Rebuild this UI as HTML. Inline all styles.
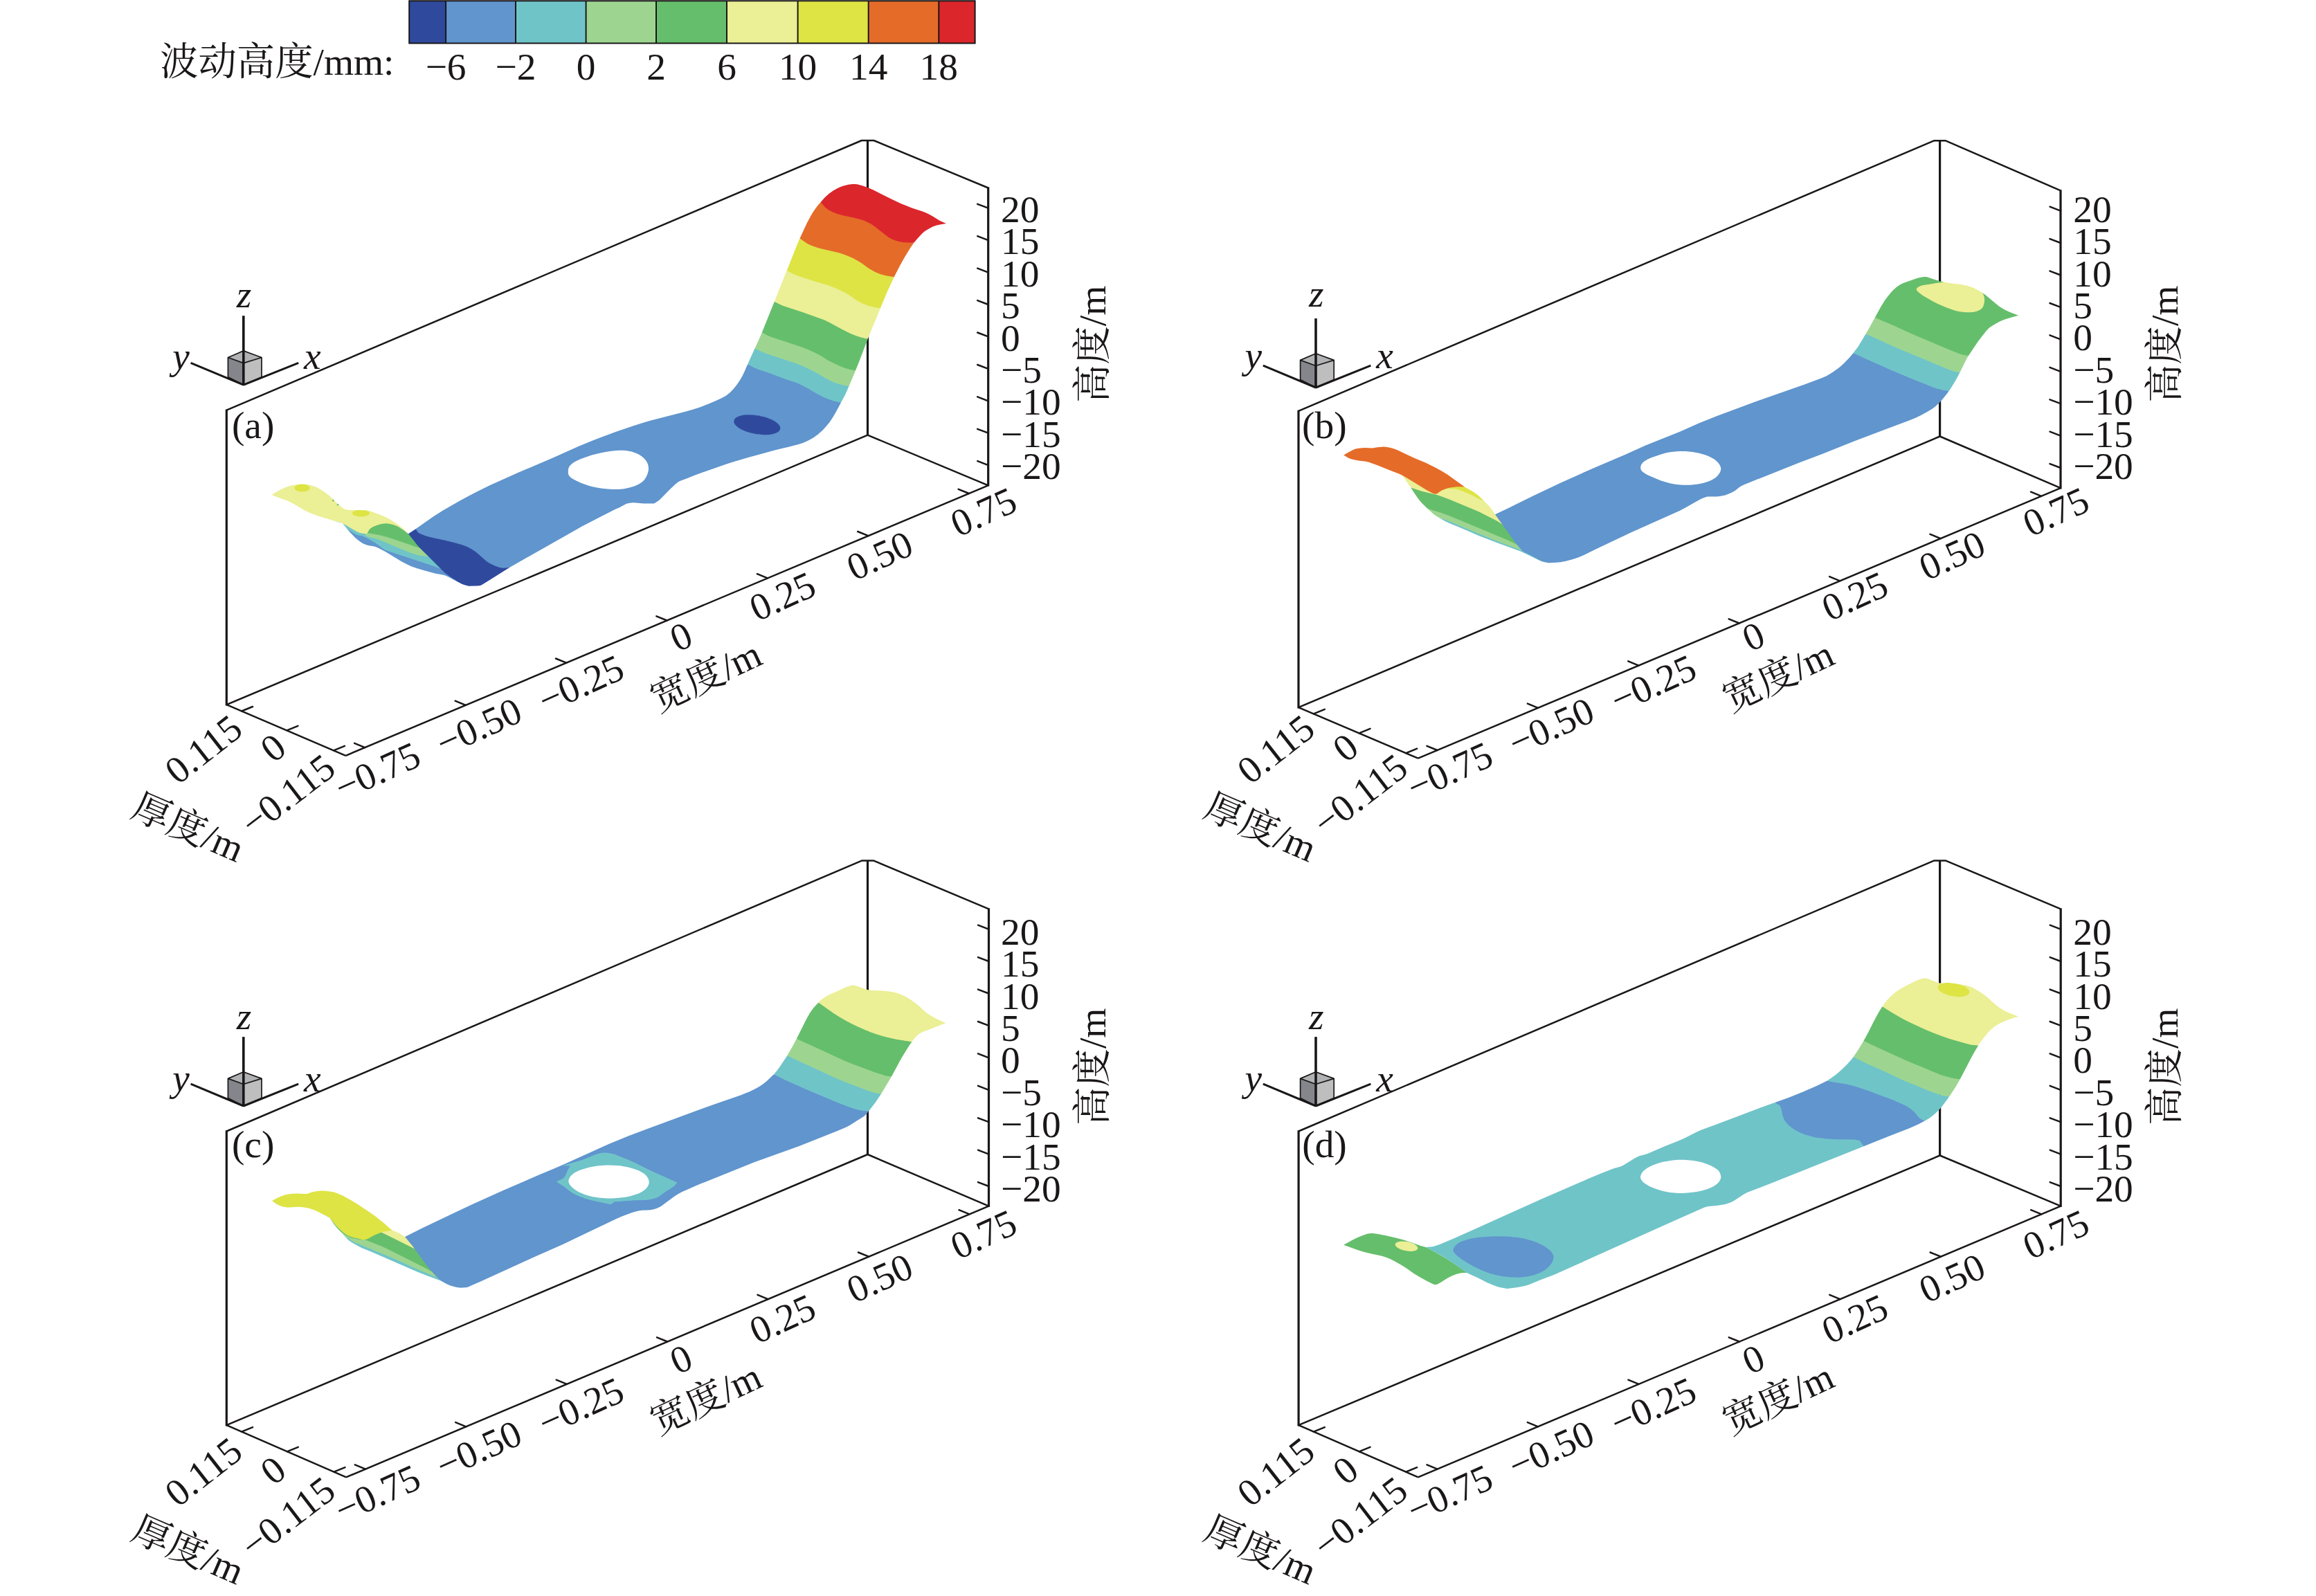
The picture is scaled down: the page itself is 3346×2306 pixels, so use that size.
<!DOCTYPE html>
<html lang="zh"><head><meta charset="utf-8"><title>波动高度</title>
<style>html,body{margin:0;padding:0;background:#fff}body{width:3346px;height:2306px;overflow:hidden}svg{display:block}text{white-space:pre}</style></head><body>
<svg xmlns="http://www.w3.org/2000/svg" width="3346" height="2306" viewBox="0 0 3346 2306">
<rect width="3346" height="2306" fill="#fff"/>
<rect x="591.2" y="1.2" width="53.4" height="61.2" fill="#2f4a9d"/>
<rect x="644.1" y="1.2" width="101.4" height="61.2" fill="#6095cd"/>
<rect x="745.0" y="1.2" width="102.1" height="61.2" fill="#6fc4c8"/>
<rect x="846.6" y="1.2" width="101.9" height="61.2" fill="#9dd590"/>
<rect x="948.0" y="1.2" width="102.5" height="61.2" fill="#65be6b"/>
<rect x="1050.0" y="1.2" width="103.1" height="61.2" fill="#ebef95"/>
<rect x="1152.6" y="1.2" width="102.6" height="61.2" fill="#dde444"/>
<rect x="1254.7" y="1.2" width="102.1" height="61.2" fill="#e56b29"/>
<rect x="1356.3" y="1.2" width="52.8" height="61.2" fill="#db262b"/>
<path d="M591.2,1.2 H1408.6 V62.4 H591.2 Z M644.1,1.2 V62.4 M745.0,1.2 V62.4 M846.6,1.2 V62.4 M948.0,1.2 V62.4 M1050.0,1.2 V62.4 M1152.6,1.2 V62.4 M1254.7,1.2 V62.4 M1356.3,1.2 V62.4" fill="none" stroke="#1a1718" stroke-width="2"/>
<g fill="#1a1718" font-family='"Liberation Serif", "Noto Serif CJK SC", serif' font-size="55.4">
<text x="231.0" y="107.5">波动高度/mm:</text>
<text x="644.1" y="114.5" text-anchor="middle">−6</text>
<text x="745.0" y="114.5" text-anchor="middle">−2</text>
<text x="846.6" y="114.5" text-anchor="middle">0</text>
<text x="948.0" y="114.5" text-anchor="middle">2</text>
<text x="1050.0" y="114.5" text-anchor="middle">6</text>
<text x="1152.6" y="114.5" text-anchor="middle">10</text>
<text x="1254.7" y="114.5" text-anchor="middle">14</text>
<text x="1356.3" y="114.5" text-anchor="middle">18</text>
</g>
<g id="panel-a">
<path d="M1253.5,202.6 L1253.5,628.6" fill="none" stroke="#1a1718" stroke-width="3.2"/>
<path d="M480,751.8 493.1,755.7 493.4,755.8 492.8,755.4 489.3,754.2ZM497,758.8 506,769.5 512.5,776.2 516.2,779.6 518.8,781.6 521.2,783.3 524.8,785.4 530,787.5 532.9,788.2 540.9,789.5 545.6,791.3 556.6,797.1 580,811.2 587.8,815.3 594.1,818.2 601.9,821 611.2,823.8 628.4,828.4 639.4,830.4 642.5,831.2 647.2,833.3 661.4,840.8 667.5,843.8 671.4,845.1 677.5,846.8 679.5,846.8 673.4,845.2 670.9,844.3 668.1,843 665,841.3 649.2,831.1 644.5,827.5 639.5,822.8 635.9,821.3 635,820.4 629.8,818.5 559.8,795.3 556.4,793.9 552.8,791.7 546.6,786.8 542.8,784.2 537.8,781 531.5,777.5 525.2,774.5 522.6,773.8 517.6,772.8 515.2,772 510.3,769.4 504.2,764.9 505.9,767 502.4,764Z" fill="#6095cd" fill-rule="evenodd"/>
<path d="M639.5,822.8 622.3,805.3 619.2,804.4 618.5,803.7 616.4,803.3 613.4,802.9 606.7,802.3 599.8,800.5 586.4,795.6 547.1,778.9 543.2,777.7 533,775.4 530.2,774.5 528.9,773.7 528.3,771.5 527.5,770.6 521.4,769.8 517.8,768.6 508.6,763.6 499.1,757.8 497.6,757 498.3,757.9 495,756.2 497,758.8 502.4,764 506.2,767.2 510,769.8 515,772.5 517.5,773.3 522.5,774.3 525,775 531.2,777.9 537.5,781.4 542.5,784.6 546.2,787.2 553.8,793 557.4,794.9 630.4,819.3Z" fill="#6fc4c8" fill-rule="evenodd"/>
<path d="M622.3,805.3 609.2,792.4 610,793.3 606.5,791.8 605.8,791 605.2,790.8 603.3,790.2 600.2,789.5 590.2,785.8 565.8,777.6 554.5,774.2 543.2,771.6 530.7,769.6 530.3,769.8 529.7,770.7 526.6,770.5 527.8,771.7 528.3,773.6 528.6,774.1 530,775 532.9,775.9 543,778.2 546.9,779.4 584.4,795.2 593.8,798.9 599.6,801 605,802.5 608,803 614.7,803.5 617.8,804.1Z" fill="#9dd590" fill-rule="evenodd"/>
<path d="M605.2,788 594.9,774.9 582.6,765.5 578.6,762.9 575.8,760.7 571.5,758.8 565.6,756.9 560.7,756 555.9,755.8 551,756.5 547.8,757.4 543.4,758.8 538,761.1 534.7,763.4 533.8,764.2 532.3,766.1 530.2,770 545,772.5 552.5,774.2 560,776.2 588.4,785.7 600,790 603.9,790.9 610,793.3Z" fill="#65be6b" fill-rule="evenodd"/>
<path d="M590,771.2 584.2,765.5 578.6,760.8 571.5,755.6 566.1,752.1 559.8,748.6 553.4,745.5 547.2,743 536.4,739.1 531.7,737.8 530,737.5 528.2,737.3 526.4,737.2 528.2,737.3 530.3,738 532.3,739 533.3,739.8 532.2,739.6 533.2,740.5 533.5,741.5 533.2,742.5 532.7,743.1 531.2,744.1 530.2,744.6 527.6,745.3 523.1,746 519.9,746 515.4,745.3 511.8,744.1 511,743.6 509.8,742.5 509.5,741.5 509.8,740.5 511,739.4 512.6,738.6 511.4,738.6 511.6,738.5 513.9,737.5 516,737 503.4,736.8 500,736.2 497.1,735.2 494.7,733.7 490,730 487.6,727.8 480,720 473.9,714.8 469.1,711.1 462.9,707 458.3,704.4 455,703 449.7,701.2 444,699.9 437.9,699.4 435.7,699.5 433.5,699.6 429,700.1 420.5,701.7 414.8,703.3 407.5,706.2 401.9,709.3 392.5,715 405,720 414.4,723.2 419.1,725.2 430,731.2 440.9,737.9 447.2,740.8 458.1,744.9 465.9,747.5 480,751.8 489.3,754.2 495,756.2 498.9,758.2 508.4,764.1 514.1,767.3 517.6,769.1 520,770 523.8,770.7 530,771.2 532.8,766.4 534.1,764.6 536,763 538.3,761.6 542.2,759.8 547.9,757.8 552.7,756.7 557.5,756.2 560.7,756.5 563.9,757 568.6,758.3 572.7,759.8 576.4,761.6 581.3,764.6ZM447,705 446.7,706.2 446.3,706.8 445,707.9 444.1,708.4 440.6,709.6 436.5,710 432.4,709.6 428.9,708.4 428,707.9 426.7,706.8 426.3,706.2 426,705 426.3,703.8 426.7,703.2 428.5,701.8 427.3,702 428.7,701.1 432.3,699.9 436.5,699.5 440.7,699.9 444.3,701.1 445.4,701.8 444.1,701.6 445,702.1 446.3,703.2 446.7,703.8ZM590,771.2 594.4,774.6 594.9,774.9 592,771.2Z" fill="#ebef95" fill-rule="evenodd"/>
<path d="M528.2,737.3 516,737 513.9,737.5 511.6,738.5 510,739.6 509.1,740.8 509.1,742.2 510,743.4 511.6,744.5 512.7,745 516.7,746.1 519.9,746.5 523.1,746.5 527.8,745.8 530.3,745 532.3,744 533,743.4 533.9,742.2 534,741.5 533.9,740.8 533,739.6 532.3,739 530.3,738ZM447.1,703.6 446,702.2 444.3,701.1 443.2,700.6 439.3,699.7 435.1,699.5 432.3,699.9 428.7,701.1 427,702.2 426.3,702.9 425.9,703.6 425.5,705 425.9,706.4 427,707.8 428.7,708.9 429.8,709.4 433.7,710.3 437.9,710.5 440.7,710.1 443.2,709.4 444.3,708.9 446,707.8 447.1,706.4 447.4,705.7 447.5,705Z" fill="#dde444" fill-rule="evenodd"/>
<circle cx="481.2" cy="723.2" r="1.2" fill="#65be6b"/><circle cx="488" cy="729.2" r="1.2" fill="#65be6b"/>
<path d="M736.5,819.7 839.9,761.1 866,747.4 888.6,736.1 895,733.2 903.7,728.5 906.2,727.6 909.7,726.7 915,726.2 918.4,726.4 930,727.5 945,727.5 950.6,723.9 953.4,721.7 967.4,707.5 976.1,699.2 980,696.2 982.9,694.7 992.5,691.2 1001,687.8 1007.5,685.3 1048.8,670.8 1058.1,667.7 1080,661.2 1120.3,650.2 1127.3,648.4 1140.3,645.5 1153.6,642.1 1160,640 1167.8,636.6 1175,632.5 1181.6,627.7 1188.9,621.2 1194,615.5 1198.6,609.9 1203.2,603 1206.9,596.7 1215.1,581.5 1213.5,581.2 1213.7,580.7 1207.6,579.7 1202.3,578.1 1195.9,575.8 1191.1,573.9 1180.2,568.3 1169.4,561.8 1164.2,558.9 1158.5,555.9 1152.7,553.3 1148.9,551.9 1137.7,548.3 1109.5,537.7 1094.4,532.7 1089.3,530.5 1081.8,526.6 1081.6,527.1 1080.2,526.3 1075.6,536.8 1072.9,542.5 1068.9,549.6 1064.3,556.3 1058.8,563.1 1054,567.8 1048.5,571.9 1042.5,575.2 1034.9,578.8 1024.4,583.2 1012.4,587.9 1001.6,591.6 989.2,595.1 939.4,607.8 926.9,611.5 914.4,615.6 889.4,624.1 870.6,631 855,637 836.2,644.8 798.8,661.5 748.8,682.8 708.1,701 689.4,710.2 676.9,716.7 664.4,723.4 639.6,737.7 626.6,746 600.2,764.5 600.6,764.2 601.6,765.5 601.2,765.7 602.6,768.5 603.8,769.8 607.3,771.8 614,774.4 622,776.7 643,781.3 656.1,784.4 667.5,787.7 674.8,790.5 681.3,793.9 687.2,797.9 691.2,801.2 701.8,810.7 704.7,812.9 710.9,816.3 717.3,818.9 721.1,820.2 723.7,820.8 726.2,821.1 730,821.1 731.3,821 732.3,820.4ZM820.9,678.9 821.4,676.5 822.4,674.3 823.9,672.2 826.1,670.2 829.1,668.1 832.8,666 837.5,663.8 843.4,661.4 855,657.5 867.4,654.4 875,653 882.6,651.8 890.2,651 895,650.8 899.6,650.8 904.1,651.1 908.4,651.7 912.5,652.5 918.2,654.4 921.7,656 924.8,657.8 927.6,659.7 930,661.8 932.1,664 933.8,666.3 935.1,668.7 936.1,671.1 936.7,673.6 937,676.2 936.9,678.9 936.4,681.7 935.5,684.7 933.8,688.8 932.3,691.2 930.7,693.4 928.7,695.5 926.2,697.5 923.3,699.3 920,701 916.3,702.5 910.5,704.3 901.9,706.2 897.3,706.8 892.6,707.1 885.2,707 877.5,706.5 869.9,705.7 862.2,704.5 855,703 850.6,701.8 840.5,698.2 835.5,696.1 829.8,693.3 825.6,690.7 823.5,688.9 822,687 821.1,684.9 820.8,682.7ZM1125.2,614.4 1126.2,616.2 1126.8,617.9 1126.7,619.6 1126.2,621.1 1125.1,622.5 1123.5,623.9 1121.4,625.1 1118.7,626 1115.7,626.8 1112.2,627.4 1108.4,627.7 1104.4,627.8 1100.2,627.6 1095.9,627.2 1091.5,626.6 1083,624.6 1078.9,623.3 1075.2,621.9 1071.7,620.3 1068.7,618.6 1066.1,616.8 1063.9,614.9 1062.3,613.1 1061.3,611.3 1060.7,609.6 1060.8,607.9 1061.3,606.4 1062.4,605 1064,603.6 1066.1,602.4 1068.8,601.5 1071.8,600.7 1075.3,600.1 1079.1,599.8 1083.1,599.7 1091.6,600.3 1100.3,601.8 1104.5,602.9 1108.6,604.2 1112.3,605.6 1115.8,607.2 1118.8,608.9 1121.4,610.7 1123.6,612.6Z" fill="#6095cd" fill-rule="evenodd"/>
<path d="M590,771.2 603.2,788 608.3,793.6 617.5,802.5 639.4,824.6 642.5,827.5 648.8,832.2 661.4,840.4 667.5,843.8 671.4,845.2 677.5,846.8 689.3,846.6 692.5,846.2 694.7,845.7 696.2,844.9 707.1,838.2 736.5,819.7 730,820.6 727.5,820.7 725,820.5 721.2,819.7 715,817.5 708.6,814.6 704,811.8 701.2,809.6 690.2,799.7 687.5,797.5 681.6,793.5 675,790 667.7,787.3 656.2,784 643.1,780.8 622.1,776.3 614.2,773.9 607.5,771.3 604.1,769.4 603.1,768.2 601.8,765.7 600.6,764.2ZM1123.9,612.2 1121.7,610.3 1119.1,608.5 1116,606.8 1112.5,605.2 1108.7,603.7 1104.7,602.4 1096.1,600.5 1087.3,599.4 1083.1,599.2 1079,599.3 1075.2,599.6 1071.7,600.2 1068.6,601 1065.9,602 1063.7,603.2 1062,604.6 1060.9,606.2 1060.3,607.8 1060.2,609.6 1060.8,611.5 1061.9,613.4 1063.6,615.3 1065.8,617.2 1068.4,619 1071.5,620.7 1075,622.3 1078.8,623.8 1082.8,625.1 1091.4,627 1100.2,628.1 1104.4,628.3 1108.5,628.2 1112.3,627.9 1115.8,627.3 1118.9,626.5 1121.6,625.5 1123.8,624.3 1125.5,622.9 1126.6,621.3 1127.2,619.7 1127.3,617.9 1126.7,616 1125.6,614.1Z" fill="#2f4a9d" fill-rule="evenodd"/>
<path d="M1215.1,581.5 1221.7,569.1 1226.5,558.1 1224.9,557.7 1225.1,557.3 1219.6,556.3 1214.9,555.1 1210.1,553.7 1205.2,552 1200.5,549.9 1194.3,546.7 1181.9,539.3 1176.7,536.4 1167.1,531.7 1159.6,528.3 1152.1,525.2 1146.4,523.2 1107,510.2 1101.5,508 1092.2,503.6 1092,504.1 1090.5,503.4 1090.7,503 1090,504.6 1088.9,506.8 1088,508.9 1086.1,513.1 1080.2,526.3 1089.1,531 1094.3,533.2 1109.4,538.2 1137.5,548.8 1148.8,552.3 1152.5,553.8 1158.2,556.4 1167.5,561.2 1178.5,567.9 1184.7,571.3 1190.9,574.3 1197.4,576.9 1206.3,579.9Z" fill="#6fc4c8" fill-rule="evenodd"/>
<path d="M1226.5,558.1 1236,535.4 1235.8,535.8 1234.3,535.4 1234.5,535 1226.6,533.2 1222.7,532 1216.6,529.8 1210.2,527 1204,524.1 1197.7,520.8 1186.8,514.2 1180.7,510.9 1172.7,507 1163.4,503 1153.9,499.4 1114.4,486.5 1109.3,484.3 1102.5,480.7 1102.3,481.2 1100.8,480.4 1095,493.8 1090.5,503.4 1101.3,508.5 1106.8,510.7 1146.2,523.7 1151.9,525.7 1159.4,528.8 1166.9,532.1 1174.6,535.9 1181.7,539.7 1191,545.4 1195.6,548 1201.9,551.1 1206.6,553.1 1211.6,554.7 1218.6,556.5Z" fill="#9dd590" fill-rule="evenodd"/>
<path d="M1235.8,535.8 1241.1,522.7 1244.2,514.5 1251.2,496.2 1252,494.2 1253.9,489.3 1253.7,489.8 1252.1,489.4 1252.3,488.9 1242.6,486.5 1236.6,484.5 1230.2,482 1225.5,479.9 1217.7,475.8 1197.6,464.9 1190.9,461.8 1160.2,450.8 1131.9,441.5 1126.8,439.3 1120.4,436 1120.2,436.4 1118.8,435.7 1119,435.2 1100.8,480.4 1109.1,484.7 1114.3,486.9 1153.8,499.9 1159.4,502 1167.1,505.1 1175.8,509 1181.9,512.1 1186.6,514.6 1195.9,520.4 1203.8,524.5 1211.6,528.2 1219.6,531.5 1225.2,533.3Z" fill="#65be6b" fill-rule="evenodd"/>
<path d="M1255.9,484 1272.1,444.9 1271.9,445.3 1270.3,445.1 1270.5,444.6 1262.6,443.3 1255.1,441.2 1250.2,439.5 1244,436.7 1237.8,433.3 1226.8,425.6 1223.7,423.7 1217.6,420.5 1207.4,415.9 1201.7,413.5 1195.6,411.3 1180.1,407 1151.9,397.7 1146.8,395.5 1138.4,391.1 1138.2,391.6 1136.8,390.9 1136.9,390.4 1132.6,401.2 1118.8,435.7 1126.6,439.7 1131.8,441.9 1160,451.2 1190.8,462.3 1197.4,465.4 1215.9,475.4 1225.3,480.3 1230,482.5 1236.4,485 1243.9,487.4 1253.7,489.8Z" fill="#ebef95" fill-rule="evenodd"/>
<path d="M1271.9,445.3 1282.5,420 1291.7,400.2 1290.1,399.9 1290.3,399.5 1282.9,398.3 1275.6,396.6 1270.8,395.2 1267.7,394 1263.1,391.8 1256.8,388.1 1252.2,385 1244.3,379.3 1239.7,376.5 1233.5,373.1 1228.5,370.8 1221.1,367.8 1213.1,365.2 1186.3,358.8 1180.1,357 1175.1,355.3 1170.6,353.5 1166.3,351.2 1157,344.9 1156.8,345.4 1155.5,344.5 1155.6,344.2 1154.7,346.2 1152.9,350.4 1149.3,359.2 1136.8,390.9 1146.6,396 1151.8,398.2 1180,407.5 1195.4,411.8 1199.5,413.2 1205.3,415.5 1215.8,420.3 1221.9,423.3 1226.6,426 1234.4,431.7 1239.1,434.7 1245.3,437.9 1251.6,440.6 1256.6,442.2 1263.7,444Z" fill="#dde444" fill-rule="evenodd"/>
<path d="M1291.7,400.2 1300.3,383.4 1306.9,371.8 1315.3,358.1 1320.6,350.5 1318.5,350.5 1318.9,350 1311.4,350.1 1302.3,349.2 1299.2,348.6 1296.1,347.8 1289.7,345.5 1285.2,343.3 1282.7,341.7 1264.4,327 1259.7,323.9 1255.1,321.3 1248.4,318.4 1243,316.6 1233,314 1217.6,310.8 1209.7,308.4 1204.3,306.5 1198.5,303.6 1193.8,300.5 1191,297.8 1187.1,292.7 1186.7,293.1 1185.7,291.9 1181.2,297.3 1177.7,302.1 1174.3,307.1 1171.2,312.3 1165.7,322.6 1155.5,344.5 1166,351.7 1170.4,353.9 1174.9,355.8 1180,357.5 1186.2,359.2 1212.9,365.6 1220.9,368.3 1228.3,371.2 1233.3,373.6 1239.4,376.9 1244.1,379.8 1253.4,386.5 1258.1,389.4 1264.4,393 1269.1,395.1 1273.9,396.7 1280,398.2 1284.2,399.1Z" fill="#e56b29" fill-rule="evenodd"/>
<path d="M1320.6,350.5 1325.6,344.5 1332.9,336.8 1336.1,334.1 1341.1,330.9 1347.5,327.6 1352.4,325.8 1357.9,324.4 1367,323 1357.5,318.8 1347.5,312.5 1341.6,309.3 1336.7,307 1331.4,304.9 1321.9,301.9 1316.2,299.9 1308.8,297 1301.2,293.9 1288.1,287.8 1261.8,274.6 1253.6,271 1245.9,268.3 1241.2,267 1238.1,266.3 1235,266 1231.9,266 1225.6,266.8 1217.8,268.8 1213.1,270.6 1210,272 1203.7,275.6 1197.5,280 1191.7,285.3 1185.7,291.9 1189.8,297.1 1192.5,300 1197,303.3 1202.5,306.2 1209.5,308.9 1217.5,311.2 1232.9,314.5 1242.8,317.1 1248.3,318.8 1254.9,321.7 1259.4,324.3 1264.1,327.4 1282.4,342.1 1285,343.8 1289.5,346 1292.7,347.2 1297.5,348.8 1303.9,349.9 1312.8,350.6Z" fill="#db262b" fill-rule="evenodd"/>
<g fill="none" stroke="#1a1718" stroke-linejoin="round" stroke-linecap="butt">
<path d="M499.5,1091.8 L327.3,1018.2 M327.3,592.6 L1244.8,203.0 L1262.5,203.0 L1427.7,271.5 M1427.7,701.3 L499.5,1091.8 M327.3,1018.2 L1253.5,628.6 L1427.7,701.3" stroke-width="2.5"/>
<path d="M327.3,591.4 L327.3,1019.5 M1427.7,270.3 L1427.7,702.6" stroke-width="3.2"/>
<path d="M1427.7,300.7 l-15.5,-5.9 M1427.7,347.1 l-15.5,-5.9 M1427.7,393.6 l-15.5,-5.9 M1427.7,440.0 l-15.5,-5.9 M1427.7,486.4 l-15.5,-5.9 M1427.7,532.9 l-15.5,-5.9 M1427.7,579.3 l-15.5,-5.9 M1427.7,625.7 l-15.5,-5.9 M1427.7,672.1 l-15.5,-5.9 M527.3,1080.1 l-15.2,-6.2 M672.8,1018.9 l-15.2,-6.2 M818.2,957.7 l-15.2,-6.2 M963.6,896.5 l-15.2,-6.2 M1109.0,835.4 l-15.2,-6.2 M1254.4,774.2 l-15.2,-6.2 M1399.9,713.0 l-15.2,-6.2 M349.0,1027.5 l16,-6.5 M414.4,1055.4 l16,-6.5 M481.9,1084.3 l16,-6.5" stroke-width="2.5" stroke-linecap="round"/>
</g>
<g transform="translate(351.8,556.1)">
<path d="M0,0 L-22.4,-11.4 L-22.4,-39.6 L0,-31.5 Z" fill="#85868c"/>
<path d="M0,0 L26.2,-11.4 L26.2,-39.6 L0,-31.5 Z" fill="#bebebe"/>
<path d="M0,-31.5 L-22.4,-39.6 L0,-49.2 L26.2,-39.6 Z" fill="#b1b2b4"/>
<g fill="none" stroke="#1a1718" stroke-linecap="butt" stroke-linejoin="round">
<path d="M0,0 L-22.4,-11.4 L-22.4,-39.6 L0,-49.2 L26.2,-39.6 L26.2,-11.4 Z M-22.4,-39.6 L0,-31.5 L26.2,-39.6" stroke-width="1.7"/>
<path d="M0,0.8 L0,-99.9" stroke-width="3.6"/>
<path d="M0,0 L-76.2,-31.8 M0,0 L79.4,-31.8" stroke-width="3"/>
</g></g>
<g fill="#1a1718" font-family='"Liberation Serif", "Noto Serif CJK SC", serif' font-size="55.4">
<text x="1446.0" y="320.8">20</text>
<text x="1446.0" y="367.2">15</text>
<text x="1446.0" y="413.7">10</text>
<text x="1446.0" y="460.1">5</text>
<text x="1446.0" y="506.5">0</text>
<text x="1446.0" y="553.0">−5</text>
<text x="1446.0" y="599.4">−10</text>
<text x="1446.0" y="645.8">−15</text>
<text x="1446.0" y="692.2">−20</text>
<text transform="translate(494.5,1157.5) rotate(-24.4)">−0.75</text>
<text transform="translate(641.0,1093.5) rotate(-24.4)">−0.50</text>
<text transform="translate(788.5,1031.5) rotate(-24.4)">−0.25</text>
<text transform="translate(979.0,942.5) rotate(-24.4)">0</text>
<text transform="translate(1094.0,898.5) rotate(-24.4)">0.25</text>
<text transform="translate(1234.5,839.7) rotate(-24.4)">0.50</text>
<text transform="translate(1384.5,776.5) rotate(-24.4)">0.75</text>
<text transform="translate(257.0,1135.0) rotate(-38)">0.115</text>
<text transform="translate(395.0,1103.5) rotate(-38)">0</text>
<text transform="translate(366.0,1210.0) rotate(-37.5)">−0.115</text>
<text transform="translate(951.0,1030.0) rotate(-25)">宽度/m</text>
<text transform="translate(186.6,1179.3) rotate(23.3)">厚度/m</text>
<text transform="translate(1597.0,582.0) rotate(-90)">高度/m</text>
<text x="396.4" y="633.4" text-anchor="end">(a)</text>
<g font-style="italic">
<text x="341.8" y="443.5">z</text>
<text x="249.3" y="532.5">y</text>
<text x="439.1" y="532.6">x</text>
</g>
</g>
</g>
<g id="panel-b">
<path d="M2802.6,202.9 L2802.6,630.5" fill="none" stroke="#1a1718" stroke-width="3.2"/>
<path d="M1941.2,657.5 1946.4,660.8 1948.7,662 1950,662.5 1947.5,661.3 1943.2,658.5ZM2077.1,746.8 2087.1,752.8 2093.4,755.8 2118.1,765.9 2136.9,774.3 2165,785 2196.5,796.6 2205,800.5 2225.1,810.3 2227.5,811.2 2231.2,812.2 2237.5,813.2 2239.5,813.2 2232,811.6 2228.2,810.2 2209.5,800 2204.9,798.1 2203,797.1 2201.9,796.1 2198.2,794.8 2197.5,794 2172.1,784.7 2157.1,779 2095.2,753.3 2083.7,748.9 2086,750.3Z" fill="#6fc4c8" fill-rule="evenodd"/>
<path d="M2198.4,792.7 2194.6,788.2 2195.1,788.8 2191.6,787 2190.8,786.1 2183,782.1 2176.8,779.3 2092.1,744 2084.4,741.3 2073.5,737.8 2065.3,735.4 2066.1,736.2 2062.5,735 2071.4,742.9 2074.5,745.2 2077.3,746.9 2096.9,754.5 2156.9,779.5 2173.8,785.9 2201.9,796.1Z" fill="#9dd590" fill-rule="evenodd"/>
<path d="M2192,785 2173.2,759.2 2173.6,759.7 2170.1,757.5 2169.3,756.4 2165.7,753.9 2161.4,751.3 2139,740.1 2133.3,737.5 2090.2,719.5 2082.3,716.7 2073.9,714 2055.1,709.5 2048.8,707.5 2040.3,704.5 2040.8,705.2 2038.3,704.4 2044.2,713.7 2050.4,722.5 2054.8,727.5 2062.5,735 2082.3,741.1 2093.8,745.2 2178.4,780.5 2182.7,782.5 2195.1,788.8Z" fill="#65be6b" fill-rule="evenodd"/>
<path d="M2173.6,759.7 2162,743.2 2160,743.2 2155.3,736.3 2152.5,732.5 2149.7,729.4 2145,725 2140.7,722.9 2139.7,721.8 2121.9,712.8 2112.8,708.9 2107,707 2101.2,705.9 2097.2,705.5 2093.4,705.5 2088.4,706 2085.6,706.8 2081.1,708.9 2076.9,712.1 2074.7,713.2 2073.9,713.7 2073.6,713.3 2071.3,712.8 2068.6,711.6 2059.7,706.6 2028.1,687.4 2028.8,688.4 2023.4,685.5 2013.2,681.5 2026.2,687.5 2038.3,704.4 2048.7,708 2055,710 2071.5,713.9 2075.9,715.1 2084.1,717.8 2093.8,721.5 2131.2,737.1 2136.9,739.6 2162.5,752.5Z" fill="#ebef95" fill-rule="evenodd"/>
<path d="M2145,725 2139.6,719.4 2136.4,716.6 2131.5,712.7 2127.5,710 2116.2,703.8 2112.8,703.3 2112.1,702.7 2107.9,702.6 2101.9,703 2097,703.6 2092.4,704.5 2088.3,705.7 2083.5,707.8 2081.1,708.9 2078.8,710.7 2084.5,707.8 2088.5,706.5 2091.6,706.1 2095.3,706 2099.2,706.2 2103.1,706.6 2106.9,707.5 2110.7,708.7 2120,712.5 2124.9,714.8ZM2073.8,714.5 2075.2,713.4 2076.3,712.5 2074.8,713.1 2073.1,713.2Z" fill="#dde444" fill-rule="evenodd"/>
<path d="M2116.2,703.8 2110.4,699.4 2091.7,686.1 2082.7,680.5 2073.1,675.2 2060,668.8 2043.1,661.7 2020.4,651 2015,648.8 2010.1,647.2 2004,645.9 1999.3,645.6 1990,646.2 1982.5,647.5 1972.5,647 1967.9,647.2 1963,647.7 1958.6,648.6 1954.8,650.1 1947.7,653.7 1941.2,657.5 1948.7,661.9 1952.9,663.4 1962.5,665.5 1973.4,666.7 1976.6,667.4 1979.7,668.4 1990.6,672.4 2012.5,681.2 2021.9,684.8 2025,686.2 2028.1,687.9 2061,707.9 2068.4,712 2071.1,713.3 2072.5,713.6 2073.8,713.8 2075,713.6 2076.1,713.2 2077.2,712.6 2081.4,709.4 2082.5,708.8 2087.3,706.7 2092.5,705 2098.7,703.9 2105,703.2 2110.7,703.2Z" fill="#e56b29" fill-rule="evenodd"/>
<path d="M2160,743.2 2188.8,783.4 2196.4,792.7 2200,796.2 2202,797.7 2207.5,800 2226.2,810.2 2230,811.6 2237.5,813.2 2248.8,812.8 2254.4,812.2 2262.1,810.8 2270.8,808.6 2280,805.5 2287.8,802.2 2305,793.8 2355,770 2427.1,737.7 2435.5,733.3 2450,725 2457.8,720.8 2461.4,719.2 2465,718 2466.9,717.6 2470.7,717.4 2480,717.5 2484.9,716.9 2492.5,715.5 2500.5,712.2 2505,710 2507.6,708.2 2513.5,703.4 2516.6,701.7 2519.8,700.2 2598.8,668.7 2633.1,655.8 2680,637 2726.9,619.2 2759,607.2 2767.5,603.8 2775.3,600 2784.8,594.8 2791.1,591 2795.2,587.9 2800.2,583.5 2804.6,579.1 2810.9,571.3 2813.8,567.6 2814.8,566.3 2815.7,565 2815.9,564.8 2815.7,565 2814,564.7 2814.3,564.3 2808.5,563.4 2799.2,561.3 2792.4,558.9 2778.9,553.6 2763.9,547.5 2733.9,534.9 2696.5,518.2 2679.3,510.3 2679,510.7 2677.5,510 2673.7,514.7 2669.3,519.6 2663.7,525.2 2659,529.4 2653.9,533.5 2648.1,537.6 2643.4,540.6 2638.3,543.4 2631.1,546.4 2607.8,555.2 2533.1,581.4 2480,601.2 2455,611.2 2426.9,623.8 2389.4,638.7 2376.9,643.8 2348.8,656.5 2301.9,676.4 2255,697.5 2214.4,716.7 2180,733.8ZM2370.4,673.5 2371.1,671.4 2372.6,669.3 2374.6,667.3 2377.5,665.2 2380.1,663.8 2385,661.6 2396.6,657.4 2405.4,654.8 2410,653.8 2414.8,653 2424.9,652.1 2435.1,652.1 2445.2,653 2454.7,654.7 2463.5,657.2 2467.5,658.8 2471.1,660.4 2474.5,662.2 2477.4,664.1 2480,666.2 2482.2,668.6 2484.1,671.1 2485.5,673.7 2486.2,676.2 2486.3,677.5 2485.9,680.1 2484.8,682.7 2483.3,685.1 2481.6,687.3 2479.4,689.4 2476.9,691.2 2472.5,693.8 2469.2,695.2 2461.5,697.8 2453.3,699.5 2448.9,700.1 2442.2,700.7 2435.6,700.8 2431.2,700.7 2424.7,700.3 2420.3,699.7 2413.6,698.4 2407.1,696.8 2399,694.2 2382.5,687.3 2378.8,685.5 2375.7,683.6 2373.2,681.8 2372,680.5 2371.1,679.3 2370.4,677.4 2370.2,675.5Z" fill="#6095cd" fill-rule="evenodd"/>
<path d="M2818.3,561.3 2825.3,549.8 2831.6,538.1 2830,537.8 2830.2,537.4 2826.1,536.7 2821.9,535.6 2816.7,533.8 2811.8,531.9 2740.2,502 2710.2,488.3 2697.3,482.7 2697,483.1 2695.5,482.5 2685,500 2682.1,504 2677.5,510 2696.2,518.7 2733.8,535.4 2769.4,550.3 2795.9,560.7 2800.5,562.1 2804.3,563.1 2809.1,564.1 2815.7,565Z" fill="#6fc4c8" fill-rule="evenodd"/>
<path d="M2831.6,538.1 2840.8,519.3 2844.2,513.5 2843.9,514 2842.2,513.7 2842.5,513.2 2838.1,512.7 2835.1,512 2831.8,510.9 2823.6,507.6 2765.2,483.3 2735.2,469.5 2720.2,463.3 2710.5,459 2710.3,459.4 2708.8,458.8 2700.9,473.3 2695.5,482.5 2710,488.8 2728.8,497.5 2741.9,503.3 2816.5,534.3 2825,537Z" fill="#9dd590" fill-rule="evenodd"/>
<path d="M2843.9,514 2856.6,495.1 2862.2,487.4 2869.7,478 2872.5,475 2875.1,472.7 2877.8,470.9 2882.8,467.9 2887.6,465.3 2892.5,463 2897.2,461.2 2902,459.7 2907.9,457.9 2916.2,455.8 2907.6,452.6 2902.5,450.5 2896.2,447.4 2891.6,444.8 2888.4,442.7 2885.3,440.2 2868.3,426.1 2866.7,424.9 2865,423.8 2863.2,422.6 2864.2,423.8 2865.6,426.1 2864.7,425.5 2865.7,427.6 2866.3,430.1 2866.6,432.5 2866.5,435 2865.9,438.9 2864.6,442.6 2863.4,444.7 2862.6,445.5 2860.8,447 2857.4,448.7 2853.5,449.9 2850.6,450.4 2847.5,450.7 2840.8,450.7 2833.3,450 2827.6,449 2823.9,448 2818.3,446.2 2808.9,442.5 2801.3,439.2 2794.4,435.9 2779.9,427.7 2776.4,425.4 2774.3,423.8 2771.2,421.1 2769.8,419.4 2769.3,418 2769.7,416.8 2770.3,416.2 2772.9,414.5 2776.4,413.1 2779.1,412.5 2787.6,411.2 2798.3,409.3 2804.6,408.5 2803.2,408.2 2808.8,407.8 2801.6,406.1 2784.9,400.4 2782.5,400 2780.1,399.9 2776.4,400.4 2771.1,401.6 2750.4,408.7 2747.5,410 2744.8,411.6 2742.2,413.3 2738.6,416.1 2735.4,418.9 2732.7,421.8 2727.2,428.5 2723.4,433.6 2717.8,442.6 2708.8,458.8 2720,463.8 2735,470 2753.8,478.7 2766.9,484.6 2821.6,507.4 2831.7,511.4 2837.1,513Z" fill="#65be6b" fill-rule="evenodd"/>
<path d="M2863.2,422.6 2857.7,419.3 2851.9,416.3 2848.1,414.8 2842.5,413 2833.1,410.9 2820,409.5 2808.8,407.8 2800.5,408.5 2787.5,410.8 2779,412 2776.2,412.6 2772.7,414 2770.7,415.2 2769.3,416.5 2768.9,417.3 2768.8,418 2768.9,418.8 2769.3,419.6 2770.9,421.4 2774,424.1 2777.2,426.6 2790.9,434.6 2801.1,439.7 2812.5,444.5 2823.8,448.5 2827.5,449.5 2831.3,450.2 2835.2,450.8 2840.7,451.2 2845.9,451.2 2849.1,451 2852.2,450.6 2855,450 2857.6,449.1 2860,448 2862,446.7 2863.8,445 2865.1,442.9 2866.4,439 2866.9,436.3 2867.1,432.5 2866.8,430 2866.2,427.5 2865,425Z" fill="#ebef95" fill-rule="evenodd"/>
<g fill="none" stroke="#1a1718" stroke-linejoin="round" stroke-linecap="butt">
<path d="M2048.8,1095.7 L1876.0,1022.1 M1876.0,593.9 L2793.9,203.3 L2811.1,203.3 L2977.0,275.4 M2977.0,705.2 L2048.8,1095.7 M1876.0,1022.1 L2802.6,630.5 L2977.0,705.2" stroke-width="2.5"/>
<path d="M1876.0,592.7 L1876.0,1023.4 M2977.0,274.2 L2977.0,706.5" stroke-width="3.2"/>
<path d="M2977.0,304.6 l-15.5,-5.9 M2977.0,351.0 l-15.5,-5.9 M2977.0,397.5 l-15.5,-5.9 M2977.0,443.9 l-15.5,-5.9 M2977.0,490.3 l-15.5,-5.9 M2977.0,536.8 l-15.5,-5.9 M2977.0,583.2 l-15.5,-5.9 M2977.0,629.6 l-15.5,-5.9 M2977.0,676.0 l-15.5,-5.9 M2076.7,1084.0 l-15.2,-6.2 M2222.1,1022.8 l-15.2,-6.2 M2367.5,961.6 l-15.2,-6.2 M2512.9,900.5 l-15.2,-6.2 M2658.3,839.3 l-15.2,-6.2 M2803.7,778.1 l-15.2,-6.2 M2949.2,716.9 l-15.2,-6.2 M1897.8,1031.4 l16,-6.5 M1963.5,1059.3 l16,-6.5 M2031.2,1088.2 l16,-6.5" stroke-width="2.5" stroke-linecap="round"/>
</g>
<g transform="translate(1901.0,560.0)">
<path d="M0,0 L-22.4,-11.4 L-22.4,-39.6 L0,-31.5 Z" fill="#85868c"/>
<path d="M0,0 L26.2,-11.4 L26.2,-39.6 L0,-31.5 Z" fill="#bebebe"/>
<path d="M0,-31.5 L-22.4,-39.6 L0,-49.2 L26.2,-39.6 Z" fill="#b1b2b4"/>
<g fill="none" stroke="#1a1718" stroke-linecap="butt" stroke-linejoin="round">
<path d="M0,0 L-22.4,-11.4 L-22.4,-39.6 L0,-49.2 L26.2,-39.6 L26.2,-11.4 Z M-22.4,-39.6 L0,-31.5 L26.2,-39.6" stroke-width="1.7"/>
<path d="M0,0.8 L0,-99.9" stroke-width="3.6"/>
<path d="M0,0 L-76.2,-31.8 M0,0 L79.4,-31.8" stroke-width="3"/>
</g></g>
<g fill="#1a1718" font-family='"Liberation Serif", "Noto Serif CJK SC", serif' font-size="55.4">
<text x="2995.2" y="320.6">20</text>
<text x="2995.2" y="367.0">15</text>
<text x="2995.2" y="413.5">10</text>
<text x="2995.2" y="459.9">5</text>
<text x="2995.2" y="506.3">0</text>
<text x="2995.2" y="552.8">−5</text>
<text x="2995.2" y="599.2">−10</text>
<text x="2995.2" y="645.6">−15</text>
<text x="2995.2" y="692.0">−20</text>
<text transform="translate(2043.7,1157.3) rotate(-24.4)">−0.75</text>
<text transform="translate(2190.2,1093.3) rotate(-24.4)">−0.50</text>
<text transform="translate(2337.7,1031.3) rotate(-24.4)">−0.25</text>
<text transform="translate(2528.2,942.3) rotate(-24.4)">0</text>
<text transform="translate(2643.2,898.3) rotate(-24.4)">0.25</text>
<text transform="translate(2783.7,839.5) rotate(-24.4)">0.50</text>
<text transform="translate(2933.7,776.3) rotate(-24.4)">0.75</text>
<text transform="translate(1806.2,1134.8) rotate(-38)">0.115</text>
<text transform="translate(1944.2,1103.3) rotate(-38)">0</text>
<text transform="translate(1915.2,1209.8) rotate(-37.5)">−0.115</text>
<text transform="translate(2500.2,1029.8) rotate(-25)">宽度/m</text>
<text transform="translate(1735.8,1179.1) rotate(23.3)">厚度/m</text>
<text transform="translate(3146.2,581.8) rotate(-90)">高度/m</text>
<text x="1945.6" y="633.4" text-anchor="end">(b)</text>
<g font-style="italic">
<text x="1891.0" y="443.3">z</text>
<text x="1798.5" y="532.3">y</text>
<text x="1988.3" y="532.4">x</text>
</g>
</g>
</g>
<g id="panel-c">
<path d="M1253.5,1243.2 L1253.5,1668.0" fill="none" stroke="#1a1718" stroke-width="3.2"/>
<path d="M393,1735 399.9,1739.9 401.2,1740.6 402.5,1741.2 399.9,1739.8 395.2,1736.3ZM467.5,1755 471.1,1756.8 475.2,1758.9 474.3,1758.5 472.9,1757.3ZM486.2,1773.3 488.1,1775.4 490,1777.5 489.3,1776.5ZM490,1777.5 501.6,1790.1 503.7,1792 506.5,1794.1 510.1,1796.3 520,1801.8 523.6,1803.4 537.3,1809 590,1832.1 602.7,1837.5 617.1,1843.3 636.1,1850.2 644.1,1853.5 639.5,1850.6 636.1,1848 631.1,1845.5 630.1,1844.5 600.2,1832 581.5,1823.3 568.3,1817.5 512,1794.2 506.9,1791.3 501.3,1787.3 503.2,1789.4 501.7,1788.3 495.3,1783ZM660.3,1859.7 665,1860.5 666.2,1860.6 668.5,1860.5 663.2,1860.1 658.2,1859.1Z" fill="#6fc4c8" fill-rule="evenodd"/>
<path d="M633.2,1845.4 627.9,1839.8 623.9,1837.6 623,1836.5 617.8,1833.4 611.9,1830.4 557.1,1802.9 545.6,1797.9 533.6,1793.2 529.1,1791.7 526,1790.9 518.9,1790.2 513,1789.2 508.2,1788.1 505.2,1787 500.9,1784.9 495.9,1781.5 497.8,1783.5 493.8,1780.5 489.3,1776.5 490,1777.5 494.3,1782.1 497.5,1785 504.9,1790.6 508.3,1792.8 511.8,1794.7 568.1,1817.9 581.2,1823.8 600,1832.5 628.6,1844.4 636.1,1848Z" fill="#9dd590" fill-rule="evenodd"/>
<path d="M476.2,1759.5 482.5,1768.8 486.2,1773.2 488.5,1775.7 492.4,1779.4 495.1,1781.5 499.2,1784.4 502.1,1786.1 506.5,1788.1 509.7,1789 518.9,1790.7 526.1,1791.5 528.9,1792.1 535,1794.3 551.2,1800.8 558.8,1804.3 611.7,1830.8 616.4,1833.2 627.9,1839.8 623.2,1834.3 617,1826.2 602.1,1805.6 602.8,1806.6 599.5,1804.7 598.8,1803.8 555.3,1782 550.9,1780.1 547.1,1781.4 539.8,1784.5 530.3,1789.8 527.4,1790.8 526.1,1790.9 523.8,1790.8 519,1789.4 511.4,1787.7 506.6,1786.3 503.8,1785.2 501.3,1783.9 498.9,1782.3 495.3,1779.6 490.3,1774.9 483.8,1767.8 486.4,1771.1 492,1777.3 485,1770 478.4,1761.7ZM472.9,1757.4 474.3,1758.5 476.2,1759.5 474.2,1758Z" fill="#65be6b" fill-rule="evenodd"/>
<path d="M599.5,1802 594.5,1795.7 587,1787 585,1787 577.5,1782.5 566.9,1777.4 564.5,1777.8 563.9,1777.4 553.6,1779.4 550,1780.4 552.5,1781.2 555.1,1782.5 597.4,1803.6 602.8,1806.6Z" fill="#ebef95" fill-rule="evenodd"/>
<path d="M403.9,1741.8 406.9,1742.9 410,1743.7 415,1744.5 418.6,1744.5 430,1743.8 434.9,1744 439.4,1744.5 447.2,1746.1 455,1748.8 459.9,1751 467.5,1755 473.1,1757.4 475.2,1758.7 476.2,1759.5 478.4,1761.7 483.8,1768.7 489.9,1775.3 495,1780 499.8,1783.5 503.6,1785.6 506.5,1786.8 511.2,1788.2 518.9,1789.8 523.7,1791.2 526.1,1791.4 529,1790.8 532.1,1789.4 540,1785 545.9,1782.5 551.2,1780.5 554.8,1779.6 566.9,1777.4 565,1776.2 562.4,1774.3 555,1767.5 542.5,1757.5 534.7,1751.9 519.1,1741.5 508.1,1734.8 495.6,1727.7 487.9,1724.4 483.3,1722.8 480,1722 472.5,1720.9 466.8,1720.5 463.3,1720.5 458.4,1721 452.5,1722 449.9,1722.7 445.1,1724.5 442.5,1725 439.6,1725.1 430,1724.5 422.5,1724.8 416.8,1725.4 411.6,1726.6 405.4,1728.8 399.9,1731.2 393,1735 395.2,1736.3 399.9,1739.8 401.2,1740.6Z" fill="#dde444" fill-rule="evenodd"/>
<path d="M585,1787 596.2,1800.4 612.5,1822.9 621.2,1834.3 628.8,1842.8 632.5,1846.6 635,1848.8 640,1852.3 645,1855 650,1857.2 655,1858.8 660,1859.9 665,1860.5 668.8,1860.5 675,1860 695.1,1851.3 773.4,1815.4 813.1,1797.9 890,1761.2 897.9,1757.7 911.7,1752.5 917.3,1750.8 922.5,1749.5 927.2,1748.8 935.6,1748.6 939.4,1748.2 944.6,1747.2 949.2,1745.7 952.4,1744.3 955.6,1742.4 974.4,1728.6 980,1724.9 985.6,1722.1 1008.8,1711.8 1089.7,1679.3 1154.5,1656 1208.6,1634.5 1219.4,1630 1224.2,1627.8 1227.5,1625.9 1248.4,1612.7 1250.8,1610.4 1255,1605.6 1253,1605.5 1253.4,1605 1247.6,1604.5 1239.1,1602.9 1230.5,1600.3 1218.9,1596.1 1181.4,1580.6 1166.5,1574.2 1136.4,1560.8 1129.1,1557.3 1119.9,1552.5 1119.5,1552.9 1118.1,1552.1 1118.2,1552 1107.8,1561.9 1102.5,1566.2 1098.1,1569.2 1093.4,1572 1083,1577.2 1077.1,1579.6 1070.5,1582.2 1030,1596.2 939.4,1629.5 908.1,1641.3 892.9,1647.4 880,1652.8 814.2,1682.6 801.5,1688.1 780,1697 726.9,1720.1 683.1,1739.8 655,1753 607.9,1775.6ZM815.2,1714.1 804.9,1707.4 811.4,1704.5 814.1,1702.9 815.3,1701.8 817.2,1699.1 821.1,1690 824.5,1684.2 824.4,1683.9 824,1683.7 816.1,1683.8 840.1,1676.8 844.6,1675.2 857.3,1669.9 861.8,1668.3 868.6,1666.5 871.5,1666 874.5,1665.9 879.3,1666.4 887.4,1668.3 906.8,1675.9 916.5,1680.2 935.9,1690 942.5,1693.1 977.5,1708.8 974.7,1712.5 971.4,1715.1 958.6,1723.2 952.1,1728.2 949.6,1729.5 946.3,1730.8 942.6,1731.8 938.5,1732.7 931.9,1733.6 913.5,1734.1 887.4,1736 883.6,1738.9 882.2,1739.3 881.4,1739.4 879.7,1739.2 854.7,1733.7 846,1731.3 838.4,1728.6 831.6,1725.6 827.4,1723.3 823.6,1720.7ZM817.8,1682.8 814.7,1684.2 814.5,1684 815.9,1683.4Z" fill="#6095cd" fill-rule="evenodd"/>
<path d="M1255,1605.6 1265,1592.5 1273.2,1580.2 1271.4,1580 1271.7,1579.5 1268.7,1579.4 1266.4,1579 1256.8,1576.3 1221.4,1563 1208.3,1557.5 1195.2,1551.5 1167.1,1538.4 1150.2,1530.8 1139.1,1525.2 1138.8,1525.7 1137.4,1524.9 1132.2,1533.1 1126.6,1541.3 1121.9,1547.7 1118.1,1552.1 1134.3,1560.4 1166.2,1574.6 1205.6,1591.2 1216.9,1595.8 1224.4,1598.7 1237.5,1603 1241.8,1604 1248.5,1605.1ZM803.9,1707.3 814.9,1714.5 823.3,1721.1 827.1,1723.7 831.3,1726 838.2,1729 845.8,1731.7 854.6,1734.2 879.6,1739.6 881.4,1739.9 882.3,1739.8 883.8,1739.3 887.5,1736.5 913.5,1734.6 931.9,1734.1 938.6,1733.2 942.7,1732.3 946.5,1731.2 949.8,1730 952.4,1728.6 958.9,1723.6 971.7,1715.5 975,1712.8 978.3,1708.6 942.7,1692.7 936.2,1689.5 916.7,1679.7 907,1675.4 887.5,1667.8 879.4,1665.9 874.5,1665.4 871.4,1665.5 868.5,1666 861.6,1667.8 857.1,1669.4 844.4,1674.7 839.9,1676.4 817.3,1682.9 814.5,1684 814.7,1684.2 816.5,1684.3 824,1684.2 820.7,1689.8 816.8,1698.8 814.9,1701.5 813.8,1702.5 811.2,1704.1ZM821.7,1704.4 822.6,1702.2 823.9,1700.1 825.7,1698 828,1696 830.9,1694 834.4,1692.2 837,1691 841.5,1689.4 846.5,1687.9 851.8,1686.6 857.3,1685.5 863.1,1684.6 872.9,1683.8 879,1683.6 885,1683.7 891.1,1684 897,1684.6 906.6,1686.2 915.5,1688.7 920.5,1690.5 923.6,1691.8 927.5,1693.9 929.8,1695.3 932.7,1697.7 934.2,1699.4 935.5,1701.2 937,1704.1 937.6,1706.9 937.7,1708.7 937.2,1711.3 936.1,1713.8 934.3,1716.3 932.8,1718 930,1720.2 926.5,1722.4 922.5,1724.4 919.5,1725.6 910.7,1728.2 905.1,1729.4 899.1,1730.3 889,1731.3 883,1731.5 877,1731.4 871,1731 864.9,1730.5 855.3,1728.9 850,1727.6 845,1726 837.1,1722.7 833,1720.5 829.5,1718.1 826.6,1715.6 824.3,1713.2 822.6,1710.7 821.6,1708.3 821.3,1706.7Z" fill="#6fc4c8" fill-rule="evenodd"/>
<path d="M1273.2,1580.2 1288.1,1555.2 1286.3,1555.1 1286.6,1554.6 1282.7,1554.4 1280.1,1554 1272.8,1551.8 1262.2,1548.1 1224.6,1534.1 1215.2,1530 1177.7,1512.5 1152.5,1501.2 1152.2,1501.7 1150.8,1501 1144.4,1512.9 1137.4,1524.9 1150,1531.2 1165,1538 1193.1,1551.1 1208.1,1557.9 1225,1565 1240,1570.5 1251.5,1575 1261.2,1578.2 1266.2,1579.5 1268.6,1579.9Z" fill="#9dd590" fill-rule="evenodd"/>
<path d="M1288.1,1555.2 1300.6,1532.1 1304.4,1525.5 1311.9,1513.3 1317.5,1505 1317.3,1505.3 1315.5,1505 1315.8,1504.5 1294.6,1501.2 1281.8,1498.3 1275.1,1496.5 1266.4,1493.9 1257.7,1490.8 1251.1,1488.2 1240.2,1483.3 1231.3,1479 1222.7,1474.6 1214.9,1470.2 1204.5,1463.6 1184.1,1449.1 1183.8,1449.5 1182.4,1448.6 1182.7,1448.3 1176.2,1455.3 1174.4,1457.5 1170.6,1462.8 1165,1472.5 1150.8,1501 1177.5,1513 1220.6,1533 1230,1536.7 1265.7,1549.9 1277.4,1553.8 1280,1554.5 1282.6,1554.9Z" fill="#65be6b" fill-rule="evenodd"/>
<path d="M1317.3,1505.3 1321.2,1500.2 1324.1,1497.1 1326.8,1494.7 1330.4,1492.3 1334.8,1490.3 1342.5,1487.5 1355,1482.5 1366.2,1478.2 1351.9,1471.5 1343.5,1466.7 1339,1463.7 1335.9,1461.2 1326.6,1452.6 1320.3,1447.7 1315.6,1444.5 1311,1441.6 1306.4,1439.1 1301.7,1436.9 1298.2,1435.6 1292.7,1434.1 1283.1,1432.2 1270,1431.2 1258.6,1430.9 1255,1430.5 1251.6,1429.6 1243.9,1426.7 1237.3,1424.6 1233.7,1423.8 1231.3,1423.8 1227.7,1424.5 1221.1,1426.8 1210,1432 1197.5,1437.5 1192.2,1440.5 1188.6,1442.9 1185.4,1445.5 1182.4,1448.6 1204.2,1464 1214.7,1470.6 1222.5,1475 1231.1,1479.5 1240,1483.8 1250.9,1488.6 1257.5,1491.2 1266.2,1494.3 1275,1497 1281.7,1498.8 1290.4,1500.8 1296.6,1502Z" fill="#ebef95" fill-rule="evenodd"/>
<g fill="none" stroke="#1a1718" stroke-linejoin="round" stroke-linecap="butt">
<path d="M500.1,2134.4 L327.3,2059.2 M327.3,1634.5 L1244.9,1243.6 L1262.4,1243.6 L1428.5,1313.4 M1428.5,1742.6 L500.1,2134.4 M327.3,2059.2 L1253.5,1668.0 L1428.5,1742.6" stroke-width="2.5"/>
<path d="M327.3,1633.3 L327.3,2060.5 M1428.5,1312.2 L1428.5,1743.9" stroke-width="3.2"/>
<path d="M1428.5,1342.6 l-15.5,-5.9 M1428.5,1389.0 l-15.5,-5.9 M1428.5,1435.5 l-15.5,-5.9 M1428.5,1481.9 l-15.5,-5.9 M1428.5,1528.3 l-15.5,-5.9 M1428.5,1574.8 l-15.5,-5.9 M1428.5,1621.2 l-15.5,-5.9 M1428.5,1667.6 l-15.5,-5.9 M1428.5,1714.0 l-15.5,-5.9 M528.0,2122.6 l-15.2,-6.2 M673.4,2061.3 l-15.2,-6.2 M818.9,1999.9 l-15.2,-6.2 M964.3,1938.5 l-15.2,-6.2 M1109.7,1877.1 l-15.2,-6.2 M1255.2,1815.7 l-15.2,-6.2 M1400.6,1754.4 l-15.2,-6.2 M349.1,2068.7 l16,-6.5 M414.7,2097.3 l16,-6.5 M482.5,2126.7 l16,-6.5" stroke-width="2.5" stroke-linecap="round"/>
</g>
<g transform="translate(351.8,1598.0)">
<path d="M0,0 L-22.4,-11.4 L-22.4,-39.6 L0,-31.5 Z" fill="#85868c"/>
<path d="M0,0 L26.2,-11.4 L26.2,-39.6 L0,-31.5 Z" fill="#bebebe"/>
<path d="M0,-31.5 L-22.4,-39.6 L0,-49.2 L26.2,-39.6 Z" fill="#b1b2b4"/>
<g fill="none" stroke="#1a1718" stroke-linecap="butt" stroke-linejoin="round">
<path d="M0,0 L-22.4,-11.4 L-22.4,-39.6 L0,-49.2 L26.2,-39.6 L26.2,-11.4 Z M-22.4,-39.6 L0,-31.5 L26.2,-39.6" stroke-width="1.7"/>
<path d="M0,0.8 L0,-99.9" stroke-width="3.6"/>
<path d="M0,0 L-76.2,-31.8 M0,0 L79.4,-31.8" stroke-width="3"/>
</g></g>
<g fill="#1a1718" font-family='"Liberation Serif", "Noto Serif CJK SC", serif' font-size="55.4">
<text x="1446.0" y="1364.7">20</text>
<text x="1446.0" y="1411.1">15</text>
<text x="1446.0" y="1457.6">10</text>
<text x="1446.0" y="1504.0">5</text>
<text x="1446.0" y="1550.4">0</text>
<text x="1446.0" y="1596.9">−5</text>
<text x="1446.0" y="1643.3">−10</text>
<text x="1446.0" y="1689.7">−15</text>
<text x="1446.0" y="1736.1">−20</text>
<text transform="translate(494.5,2201.4) rotate(-24.4)">−0.75</text>
<text transform="translate(641.0,2137.4) rotate(-24.4)">−0.50</text>
<text transform="translate(788.5,2075.4) rotate(-24.4)">−0.25</text>
<text transform="translate(979.0,1986.4) rotate(-24.4)">0</text>
<text transform="translate(1094.0,1942.4) rotate(-24.4)">0.25</text>
<text transform="translate(1234.5,1883.6) rotate(-24.4)">0.50</text>
<text transform="translate(1384.5,1820.4) rotate(-24.4)">0.75</text>
<text transform="translate(257.0,2178.9) rotate(-38)">0.115</text>
<text transform="translate(395.0,2147.4) rotate(-38)">0</text>
<text transform="translate(366.0,2253.9) rotate(-37.5)">−0.115</text>
<text transform="translate(951.0,2073.9) rotate(-25)">宽度/m</text>
<text transform="translate(186.6,2223.2) rotate(23.3)">厚度/m</text>
<text transform="translate(1597.0,1625.9) rotate(-90)">高度/m</text>
<text x="396.4" y="1671.5" text-anchor="end">(c)</text>
<g font-style="italic">
<text x="341.8" y="1487.4">z</text>
<text x="249.3" y="1576.4">y</text>
<text x="439.1" y="1576.5">x</text>
</g>
</g>
</g>
<g id="panel-d">
<path d="M2802.6,1243.2 L2802.6,1669.5" fill="none" stroke="#1a1718" stroke-width="3.2"/>
<path d="M1941.2,1798.8 1961.3,1806 1969.1,1808.5 1980,1811.2 1990.9,1813.4 1995.6,1814.5 2001.9,1816.4 2006.6,1818.2 2014.4,1822 2025.3,1828.3 2031.6,1832.3 2042.5,1840 2052.1,1845.8 2060.2,1850.2 2070.7,1855.4 2072.8,1856.1 2074.6,1856.3 2076.8,1855.6 2082.2,1852.4 2088.7,1848.2 2092.5,1846.1 2097.5,1843.6 2102.5,1841.5 2107.5,1840 2111.3,1839.3 2116.7,1839.1 2120.4,1839.3 2116.3,1836.7 2099.6,1825 2090,1818.8 2075,1810 2060,1802 2052.5,1800 2040,1795.5 2026.9,1791.3 2017.5,1788.8 2002.5,1785.2 1989.3,1782.8 1983.6,1782 1980,1782 1975.1,1782.8 1967.5,1785.5 1961.3,1788.1 1953.3,1792.1ZM2047,1805.1 2045.2,1806.3 2043.9,1806.7 2040.8,1807.3 2039,1807.4 2032.9,1807.1 2028.8,1806.3 2024.8,1805.1 2023,1804.3 2019.9,1802.7 2018.7,1801.8 2017,1800 2016.5,1799.2 2016.3,1797.7 2017,1796.4 2017.8,1795.8 2020.1,1794.8 2021.5,1794.4 2025,1794.1 2027,1794.1 2032.1,1794.6 2029.3,1793.7 2035.4,1794.7 2041.2,1796.7 2042.9,1797.5 2045.4,1799.1 2043.3,1798.4 2045.3,1799.7 2046.3,1800.6 2047.5,1802.3 2047.7,1803.8Z" fill="#65be6b" fill-rule="evenodd"/>
<path d="M2048.2,1803 2048,1802.1 2047.4,1801.2 2046.7,1800.2 2045.6,1799.3 2042.9,1797.5 2039.4,1796 2037.4,1795.3 2031.1,1793.9 2025,1793.6 2023.1,1793.7 2019.9,1794.3 2017.5,1795.4 2016.7,1796 2016.1,1796.8 2015.8,1797.6 2015.8,1798.5 2016,1799.4 2017.3,1801.3 2018.4,1802.2 2021.1,1804 2024.6,1805.5 2026.6,1806.2 2032.9,1807.6 2039,1807.9 2040.9,1807.8 2044.1,1807.2 2045.4,1806.7 2047.3,1805.5 2047.9,1804.7 2048.2,1803.9Z" fill="#ebef95" fill-rule="evenodd"/>
<path d="M2060,1802 2078.8,1812.1 2090,1818.8 2101.2,1826.2 2116.2,1836.9 2120,1839.2 2123.8,1841.2 2135,1846.2 2148.1,1852.9 2157.7,1856.9 2163.2,1858.9 2166.7,1860 2177.5,1862 2190.7,1860.3 2201.9,1858.3 2208.1,1856.4 2226.9,1848.7 2240.9,1843.6 2246.6,1841.3 2424.1,1761.4 2459.6,1745.7 2463.2,1744.3 2466.9,1743.3 2470.7,1742.8 2480,1742 2492.5,1740 2500,1737.4 2502.5,1736.2 2505,1734.9 2519.8,1725.2 2525.3,1722.5 2557.9,1710.1 2692.6,1656.2 2691.7,1654.9 2692.2,1654.7 2688,1648.6 2686.3,1647.5 2683.7,1646.7 2678.2,1646.1 2670,1645.8 2656.9,1645.8 2647.5,1645.5 2636.3,1644.7 2628.8,1643.9 2621.3,1642.5 2611.9,1640.1 2605.2,1637.8 2597.7,1634.6 2593.7,1632.4 2588.9,1629.2 2584.7,1625.7 2581.2,1621.9 2578.4,1617.8 2576.4,1613.4 2575.4,1610.2 2574.2,1603.6 2573.2,1600.1 2572.1,1597.9 2571.1,1596.6 2570.5,1596.1 2566.4,1594 2565.8,1594.2 2564.2,1593.1 2542.5,1600.8 2480,1624.5 2458.1,1632.4 2451.9,1635.2 2433.1,1644.8 2426.9,1647.6 2405,1656.2 2380,1667 2376,1668.3 2369,1669.9 2365.9,1671.2 2359.7,1674.7 2345.6,1683.4 2342.5,1685 2339.7,1686.1 2332.2,1688 2327.5,1689.7 2311.5,1696.1 2292.5,1704.1 2226.9,1732.6 2101.9,1788.8 2080,1798 2072.5,1800.6 2070,1801.2 2067.5,1801.6ZM2371,1696.8 2372.2,1694.5 2374,1692.3 2377.5,1689.2 2380.5,1687.3 2383.8,1685.5 2387.5,1683.8 2393.5,1681.4 2397.9,1680 2402.5,1678.8 2413.1,1676.9 2418.8,1676.2 2424.7,1675.8 2433.2,1675.8 2439.1,1676.2 2444.7,1676.7 2450,1677.5 2454.8,1678.5 2459.3,1679.6 2463.5,1681 2469.5,1683.3 2473.3,1685 2478.5,1687.9 2481.2,1690 2482.4,1691.1 2484.2,1693.6 2485.4,1696.2 2486.1,1698.8 2486.3,1701.2 2485.8,1703.4 2484.8,1705.6 2483.4,1707.7 2481.5,1709.8 2479.1,1711.8 2476.2,1713.7 2471.2,1716.2 2467.6,1717.7 2463.7,1719.1 2457.2,1720.8 2452.7,1721.7 2445.2,1722.8 2435,1723.8 2427.4,1723.9 2422.3,1723.8 2412.7,1723 2403.8,1721.2 2397.5,1719.5 2391.5,1717.5 2385.8,1715.3 2382.5,1713.8 2379.6,1712.1 2375.8,1709.6 2373.8,1707.9 2371.6,1705.3 2370.3,1702.8 2369.9,1701 2370.2,1699ZM2100.8,1809.1 2100,1806.9 2100.2,1804.7 2101.2,1802.4 2102,1801.2 2104.1,1798.9 2106.7,1796.9 2109.9,1795.1 2113.8,1793.4 2120.1,1791.2 2124.6,1790.1 2132,1788.9 2140,1788 2149,1787.3 2165,1786.8 2180.8,1787.1 2186.9,1787.6 2192.9,1788.4 2198.7,1789.5 2204.4,1790.8 2214.8,1793.8 2219.5,1795.5 2223.9,1797.4 2229.8,1800.4 2233.2,1802.5 2237.6,1805.8 2239.9,1808 2241.7,1810.1 2243.4,1813.2 2243.9,1815.3 2244,1817.5 2243.6,1819.8 2242,1823.5 2240.5,1826 2237.6,1829.5 2234,1832.8 2231.2,1834.9 2228.1,1836.7 2224.6,1838.5 2220.9,1840 2214.9,1842 2208.6,1843.5 2204.3,1844.3 2199.8,1844.8 2195.1,1845.1 2190.2,1845.2 2182.6,1844.9 2172.5,1843.9 2167.4,1843 2160,1841.4 2155.3,1840.1 2148.8,1838 2138,1833.6 2126.9,1828.1 2120.7,1824.6 2114.7,1820.9 2109.3,1817.1 2105,1813.5 2102.6,1811.2ZM2781.4,1619.2 2787.6,1615.5 2791.3,1612.8 2795.2,1609.5 2800,1605 2803.9,1600.7 2808.4,1595.1 2816.3,1584.3 2814.5,1584.2 2814.8,1583.8 2807.2,1582.7 2801.6,1580.9 2782.7,1574 2767.7,1567.5 2754.6,1562.3 2749,1559.9 2722.7,1547.5 2694.5,1534.9 2679.6,1527.4 2679.3,1527.8 2677.8,1527 2678.1,1526.6 2674.7,1531 2669.1,1537.2 2664.6,1541.8 2659,1546.9 2653.9,1551.4 2649.6,1554.7 2645,1558.1 2639.7,1561.4 2641.8,1562 2641.2,1562.4 2643.6,1563 2668,1567.1 2673.6,1568.4 2679.2,1570 2690.5,1573.5 2699.8,1576.7 2733.6,1589.5 2741.2,1592.6 2749.8,1596.5 2754.5,1598.8 2757.2,1600.4 2759.7,1602.2 2763.1,1605.1 2766.7,1608.7 2770.9,1614.1 2773.2,1616.2 2775.2,1617.5 2778.4,1619.1 2778.9,1618.8 2780.8,1619.5 2780.3,1619.9Z" fill="#6fc4c8" fill-rule="evenodd"/>
<path d="M2692.6,1656.2 2730,1641.2 2759,1630.1 2772.3,1624 2780.8,1619.5 2776.2,1617.5 2773,1615.3 2770.7,1613.1 2767.8,1609.2 2765.4,1606.6 2761.2,1602.8 2757.5,1600 2751.6,1596.8 2737.7,1590.6 2728.1,1586.8 2715,1582 2700,1576.2 2690.6,1573 2679.4,1569.5 2673.8,1567.9 2668.1,1566.6 2647.6,1563.3 2643.8,1562.5 2639.7,1561.4 2634.8,1564.1 2625,1568.8 2605,1577.5 2583.2,1586.3 2564.2,1593.1 2567,1594.9 2570.2,1596.6 2571.7,1598.1 2572.7,1600.3 2573.8,1603.8 2574.9,1610.3 2575.9,1613.6 2577.4,1617 2578.6,1619.2 2581.6,1623.2 2585.4,1627 2591,1631.2 2596.1,1634.3 2601.9,1637 2608.3,1639.4 2615.4,1641.6 2623.1,1643.4 2630.6,1644.6 2640,1645.5 2647.5,1646 2656.9,1646.3 2670,1646.2 2678.1,1646.6 2683.6,1647.2 2686.1,1647.9 2687.6,1649ZM2102.2,1811.6 2104.7,1813.9 2109,1817.5 2112.5,1820 2118.4,1823.8 2128.9,1829.7 2135.6,1833 2142.2,1835.9 2148.6,1838.4 2152.9,1839.9 2162.3,1842.4 2169.9,1843.9 2175,1844.7 2185.1,1845.6 2192.7,1845.7 2197.5,1845.5 2206.6,1844.4 2210.9,1843.6 2217,1841.9 2223,1839.7 2226.7,1838.1 2230,1836.2 2233,1834.3 2235.7,1832.1 2239,1828.7 2241.7,1825.1 2243.1,1822.5 2244,1819.9 2244.5,1817.5 2244.4,1815.2 2243.9,1813 2242.8,1810.9 2240.3,1807.6 2237.9,1805.4 2233.4,1802.1 2230,1800 2224.1,1797 2219.7,1795.1 2215,1793.3 2207.3,1791 2201.7,1789.6 2195.9,1788.4 2190,1787.5 2183.9,1786.9 2177.7,1786.5 2168.1,1786.3 2158.6,1786.3 2142.9,1787.2 2134.5,1788.1 2126.9,1789.2 2122.2,1790.2 2117.8,1791.4 2111.6,1793.7 2108,1795.5 2105,1797.5 2102.6,1799.7 2101.6,1800.9 2100.2,1803.3 2099.7,1804.6 2099.5,1805.8 2099.5,1807 2099.8,1808.2 2100.4,1809.3Z" fill="#6095cd" fill-rule="evenodd"/>
<path d="M2816.3,1584.3 2825.3,1570.5 2828.1,1565.7 2830,1562.5 2830.9,1560.8 2831.9,1559.2 2831.8,1559.3 2830,1559.3 2830.2,1558.8 2822.3,1557.7 2814.9,1555.9 2806.7,1553.4 2795.2,1549 2780.2,1542.5 2763.3,1535.8 2750.2,1530 2718.3,1515.7 2694.1,1504.2 2693.8,1504.6 2692.4,1504 2685,1516.2 2677.8,1527 2694.3,1535.4 2722.5,1548 2750.6,1561.2 2767.5,1568 2784.4,1575.3 2803.5,1582.1 2807.8,1583.3 2815.2,1584.3Z" fill="#9dd590" fill-rule="evenodd"/>
<path d="M2831.8,1559.3 2847.8,1528.4 2853.4,1518.4 2858.2,1510.4 2856.4,1510.2 2856.7,1509.7 2849.6,1509.3 2846.4,1508.7 2822.1,1502.1 2808.9,1497.8 2789.3,1490.3 2780.5,1486.6 2771.8,1482.6 2751.9,1473 2745.7,1469.7 2738.1,1465.3 2729.3,1459.9 2721.1,1454.6 2720.9,1455.1 2719.5,1454.2 2715.9,1459.7 2712.2,1466.2 2706.6,1476.8 2700,1490 2692.4,1504 2720,1517 2753.8,1532.2 2765,1537 2780,1543 2793.1,1548.7 2802.7,1552.5 2810,1555 2817.7,1557.1 2823,1558.3 2830.2,1559.3Z" fill="#65be6b" fill-rule="evenodd"/>
<path d="M2860.9,1506.1 2865.6,1499.9 2873.1,1490.7 2877.7,1486.2 2882.5,1482.5 2888.5,1479 2897.1,1475 2906.5,1471.5 2916.2,1468.8 2900.1,1462.5 2896.4,1460.8 2893.6,1459.1 2887.3,1454.9 2882.5,1451.2 2871.6,1441.3 2865.3,1436.4 2860.6,1433.2 2854.4,1429.4 2849.9,1427 2846.7,1425.6 2843.2,1424.5 2839.6,1423.6 2829.9,1422 2832.7,1422.9 2837.1,1424.8 2835.3,1424.5 2839.4,1426.6 2842.6,1429.1 2843.6,1430.4 2844.3,1431.6 2844.7,1432.8 2844.7,1433.9 2844.3,1434.9 2843.6,1435.9 2842.5,1436.9 2841.1,1437.7 2837.2,1439 2834.9,1439.4 2829.6,1439.7 2826.8,1439.6 2820.9,1438.9 2815.2,1437.5 2809.9,1435.6 2805.6,1433.4 2803.8,1432.1 2802.4,1430.9 2801.4,1429.6 2800.7,1428.4 2800.3,1427.2 2800.3,1426.1 2800.7,1425.1 2801.4,1424.1 2802.5,1423.1 2804.2,1422.2 2803.2,1422.2 2803.7,1421.9 2807.7,1420.6 2810,1420.2 2803.9,1420.6 2801.1,1420.3 2797.3,1419 2787,1414.7 2783.8,1413.8 2780.5,1413.6 2776.2,1414.2 2773.8,1414.9 2770.2,1416.3 2757.3,1422.5 2746.1,1428.6 2740,1432.5 2734.7,1436.8 2728.9,1442.3 2724.3,1447.6 2719.5,1454.2 2730.8,1461.4 2739.7,1466.8 2747.5,1471.2 2756.1,1475.7 2771.6,1483.1 2782.5,1488 2793.4,1492.5 2806.6,1497.5 2815.3,1500.5 2822,1502.6 2842,1508.2 2848.6,1509.7 2858.2,1510.4Z" fill="#ebef95" fill-rule="evenodd"/>
<path d="M2829.9,1422 2820.4,1420.5 2815,1420 2811.6,1420 2807.7,1420.6 2803.7,1421.9 2802.2,1422.7 2801,1423.7 2800.3,1424.8 2799.8,1426 2799.8,1427.3 2800.2,1428.6 2800.9,1429.9 2802.1,1431.2 2805.3,1433.8 2807.4,1435 2812.3,1437.1 2817.9,1438.8 2823.8,1439.8 2826.8,1440.1 2829.6,1440.2 2835,1439.9 2839.5,1438.9 2841.3,1438.1 2842.8,1437.3 2844,1436.3 2844.7,1435.2 2845.2,1434 2845.2,1432.7 2844.8,1431.4 2844.1,1430.1 2842.9,1428.8 2839.7,1426.2 2837.6,1425 2832.7,1422.9Z" fill="#dde444" fill-rule="evenodd"/>
<g fill="none" stroke="#1a1718" stroke-linejoin="round" stroke-linecap="butt">
<path d="M2048.8,2134.4 L1876.1,2059.2 M1876.1,1634.5 L2793.9,1243.6 L2811.3,1243.6 L2977.2,1313.4 M2977.2,1742.6 L2048.8,2134.4 M1876.1,2059.2 L2802.6,1669.5 L2977.2,1742.6" stroke-width="2.5"/>
<path d="M1876.1,1633.3 L1876.1,2060.5 M2977.2,1312.2 L2977.2,1743.9" stroke-width="3.2"/>
<path d="M2977.2,1342.6 l-15.5,-5.9 M2977.2,1389.0 l-15.5,-5.9 M2977.2,1435.5 l-15.5,-5.9 M2977.2,1481.9 l-15.5,-5.9 M2977.2,1528.3 l-15.5,-5.9 M2977.2,1574.8 l-15.5,-5.9 M2977.2,1621.2 l-15.5,-5.9 M2977.2,1667.6 l-15.5,-5.9 M2977.2,1714.0 l-15.5,-5.9 M2076.7,2122.6 l-15.2,-6.2 M2222.1,2061.3 l-15.2,-6.2 M2367.6,1999.9 l-15.2,-6.2 M2513.0,1938.5 l-15.2,-6.2 M2658.5,1877.1 l-15.2,-6.2 M2803.9,1815.7 l-15.2,-6.2 M2949.3,1754.4 l-15.2,-6.2 M1897.9,2068.7 l16,-6.5 M1963.5,2097.3 l16,-6.5 M2031.2,2126.7 l16,-6.5" stroke-width="2.5" stroke-linecap="round"/>
</g>
<g transform="translate(1901.0,1598.0)">
<path d="M0,0 L-22.4,-11.4 L-22.4,-39.6 L0,-31.5 Z" fill="#85868c"/>
<path d="M0,0 L26.2,-11.4 L26.2,-39.6 L0,-31.5 Z" fill="#bebebe"/>
<path d="M0,-31.5 L-22.4,-39.6 L0,-49.2 L26.2,-39.6 Z" fill="#b1b2b4"/>
<g fill="none" stroke="#1a1718" stroke-linecap="butt" stroke-linejoin="round">
<path d="M0,0 L-22.4,-11.4 L-22.4,-39.6 L0,-49.2 L26.2,-39.6 L26.2,-11.4 Z M-22.4,-39.6 L0,-31.5 L26.2,-39.6" stroke-width="1.7"/>
<path d="M0,0.8 L0,-99.9" stroke-width="3.6"/>
<path d="M0,0 L-76.2,-31.8 M0,0 L79.4,-31.8" stroke-width="3"/>
</g></g>
<g fill="#1a1718" font-family='"Liberation Serif", "Noto Serif CJK SC", serif' font-size="55.4">
<text x="2995.2" y="1364.7">20</text>
<text x="2995.2" y="1411.1">15</text>
<text x="2995.2" y="1457.6">10</text>
<text x="2995.2" y="1504.0">5</text>
<text x="2995.2" y="1550.4">0</text>
<text x="2995.2" y="1596.9">−5</text>
<text x="2995.2" y="1643.3">−10</text>
<text x="2995.2" y="1689.7">−15</text>
<text x="2995.2" y="1736.1">−20</text>
<text transform="translate(2043.7,2201.4) rotate(-24.4)">−0.75</text>
<text transform="translate(2190.2,2137.4) rotate(-24.4)">−0.50</text>
<text transform="translate(2337.7,2075.4) rotate(-24.4)">−0.25</text>
<text transform="translate(2528.2,1986.4) rotate(-24.4)">0</text>
<text transform="translate(2643.2,1942.4) rotate(-24.4)">0.25</text>
<text transform="translate(2783.7,1883.6) rotate(-24.4)">0.50</text>
<text transform="translate(2933.7,1820.4) rotate(-24.4)">0.75</text>
<text transform="translate(1806.2,2178.9) rotate(-38)">0.115</text>
<text transform="translate(1944.2,2147.4) rotate(-38)">0</text>
<text transform="translate(1915.2,2253.9) rotate(-37.5)">−0.115</text>
<text transform="translate(2500.2,2073.9) rotate(-25)">宽度/m</text>
<text transform="translate(1735.8,2223.2) rotate(23.3)">厚度/m</text>
<text transform="translate(3146.2,1625.9) rotate(-90)">高度/m</text>
<text x="1945.8" y="1671.5" text-anchor="end">(d)</text>
<g font-style="italic">
<text x="1891.0" y="1487.4">z</text>
<text x="1798.5" y="1576.4">y</text>
<text x="1988.3" y="1576.5">x</text>
</g>
</g>
</g>
</svg></body></html>
